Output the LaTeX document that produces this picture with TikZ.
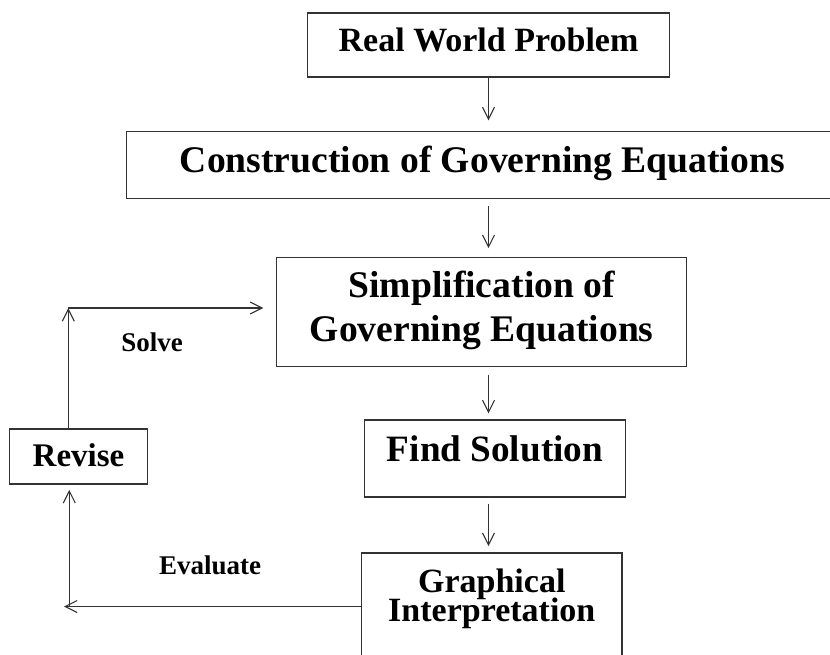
\documentclass[tikz,border=0pt]{standalone}
\usepackage{fontspec}
\setmainfont{Liberation Serif}
\usetikzlibrary{arrows.meta}
\newcommand\tightlines{\lineskiplimit=-50pt\relax}
\begin{document}
\begin{tikzpicture}[x=1pt,y=-1pt,
  box/.style={draw=black!80, line width=1.1pt, inner sep=0pt, align=center, text depth=0pt},
  arr/.style={draw=black!80, line width=1.1pt, -{Straight Barb[length=12pt,width=12pt]}},
  lbl/.style={font=\bfseries\fontsize{27}{30}\selectfont, anchor=base, inner sep=0pt}]
\useasboundingbox (0,0) rectangle (830,655);
\clip (0,0) rectangle (830,655);

% process boxes
\node[box, minimum width=362pt, minimum height=64pt, text height=13.4pt,
      font=\bfseries\fontsize{34}{40}\selectfont] (rw) at (488.5,45) {Real World Problem};
\node[box, minimum width=711pt, minimum height=67.3pt, text height=14.8pt,
      font=\bfseries\fontsize{37.6}{44}\selectfont] (cg) at (482.3,165.3) {Construction of Governing Equations};
\node[box, minimum width=410pt, minimum height=108.7pt, text height=60pt,
      font=\bfseries\fontsize{37.6}{44}\selectfont\tightlines] (sg) at (481.7,311.7) {Simplification of\\Governing Equations};
\node[box, minimum width=261.4pt, minimum height=77pt, text height=6.4pt,
      font=\bfseries\fontsize{37.2}{44}\selectfont] (fs) at (495,458.5) {Find Solution};
\node[box, minimum width=260.3pt, minimum height=107pt, text height=30.4pt,
      font=\bfseries\fontsize{34}{29}\selectfont\tightlines] (gi) at (491.8,606.5) {Graphical\\Interpretation};
\node[box, minimum width=138.4pt, minimum height=55pt, text height=20.4pt,
      font=\bfseries\fontsize{33}{40}\selectfont] (rv) at (78.5,456.5) {Revise};

% main chain
\draw[arr, shorten >=10.7pt] (rw.south) -- (rw.south |- cg.north);
\draw[arr, shorten <=7pt, shorten >=8.6pt] (cg.south -| rw.south) -- (sg.north -| rw.south);
\draw[arr, shorten <=8pt, shorten >=6pt] (sg.south -| rw.south) -- (fs.north -| rw.south);
\draw[arr, shorten <=6pt, shorten >=6.3pt] (fs.south -| rw.south) -- (gi.north -| rw.south);

% feedback loop
\coordinate (ecorner) at (64,606.5);
\coordinate (ebase) at (69.3,606.5);
\coordinate (scorner) at (68.3,308);
\draw[arr] (gi.west) -- (ecorner);
\draw[arr, shorten >=5.3pt] (ebase) -- (rv.south -| ebase);
\draw[arr] (rv.north -| scorner) -- (scorner);
\draw[arr, shorten >=12.7pt] (scorner) -- (sg.west |- scorner);

% loop labels
\node[lbl] (solve) at (152,351.7) {Solve};
\node[lbl] (eval) at (210,574) {Evaluate};
\end{tikzpicture}
\end{document}
